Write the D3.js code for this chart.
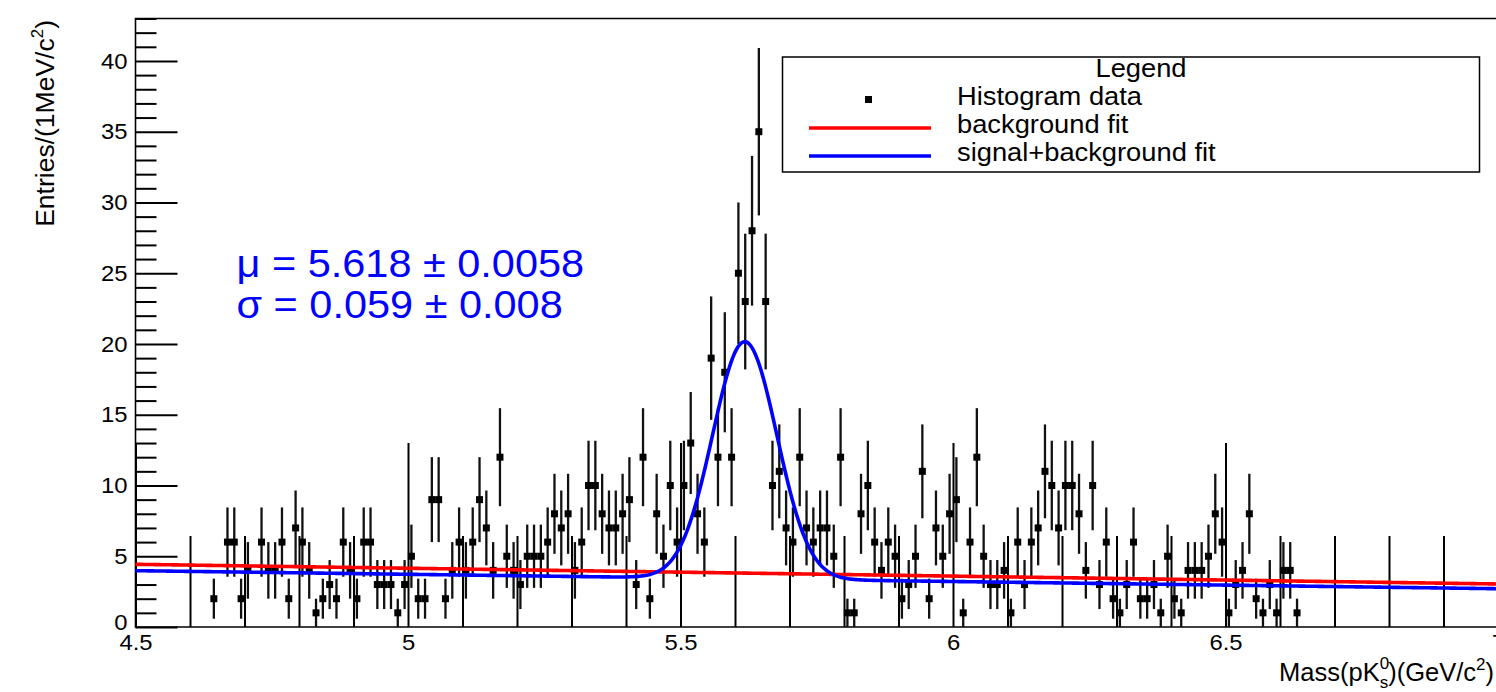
<!DOCTYPE html>
<html><head><meta charset="utf-8">
<script src="https://cdn.jsdelivr.net/npm/d3@7"></script>
<style>html,body{margin:0;padding:0;background:#fff;overflow:hidden}</style>
</head><body><svg id="c" width="1496" height="692"></svg>
<script>
// ---------------- data ----------------
const binLow = 4.5;          // lower edge of first bin (GeV/c^2)
const binWidth = 0.0125;     // bin width (GeV/c^2)
const counts = [
  0,0,0,0,0,0,0,0,0,0,
  0,2,0,6,6,2,4,0,6,4,
  4,6,2,7,6,4,1,2,3,2,
  6,4,2,6,6,3,3,3,1,3,
  5,2,2,9,9,2,4,6,4,6,
  9,7,4,12,5,4,3,5,5,5,
  6,8,7,8,4,6,10,10,8,7,
  7,8,9,3,12,2,8,5,10,6,
  10,13,8,6,19,12,18,12,25,23,
  28,35,23,10,11,7,6,12,7,6,
  7,7,5,12,1,1,8,10,6,4,
  6,5,2,3,5,11,2,7,5,8,
  9,1,6,12,5,3,3,4,1,6,
  3,6,7,11,10,7,10,10,8,4,
  10,3,6,2,1,3,6,2,2,3,
  1,5,2,1,4,4,4,5,8,6,
  1,3,4,8,2,1,3,1,4,4,
  1,0,0,0,0,0,0,0,0,0,
  0,0,0,0,0,0,0,0,0,0,
  0,0,0,0,0,0,0,0,0,0
];
const xMajorTicks = [4.5, 5, 5.5, 6, 6.5, 7];
const xMajorLabels = ["4.5", "5", "5.5", "6", "6.5", "7"];
const yMajorTicks = [0, 5, 10, 15, 20, 25, 30, 35, 40];
const yMajorLabels = ["0", "5", "10", "15", "20", "25", "30", "35", "40"];

// fit results
const fitMu = 5.618, fitSigma = 0.059, fitAmp = 16.75;
const bgOnly = [4.43, -0.556];   // background fit: p0 + p1*(m-4.5)
const bgInSB = [3.98, -0.51];    // background part of signal+background fit
const fitTexts = ["\u03bc = 5.618 \u00b1 0.0058", "\u03c3 = 0.059 \u00b1 0.008"];
const legendLabels = ["Histogram data", "background fit", "signal+background fit"];

// ---------------- drawing ----------------
const FONT = "'Liberation Sans', Arial, Helvetica, sans-serif";
const SX = 1.06;
const svg = d3.select("#c");
const x = d3.scaleLinear().domain([4.5, 7.0]).range([135.5, 1498]);
const y = d3.scaleLinear().domain([0, 43]).range([627, 18.5]);

function stretch(sel, f) {
  sel.each(function () {
    const L = this.getComputedTextLength();
    d3.select(this).attr("textLength", L * f).attr("lengthAdjust", "spacingAndGlyphs");
  });
}

// axes
const xMinor = x.ticks(25).filter(v => Math.abs(v * 2 - Math.round(v * 2)) > 1e-6);
const gxm = svg.append("g").attr("transform", `translate(0,${y(0)})`)
  .call(d3.axisBottom(x).tickValues(xMinor).tickSize(-91).tickFormat(""));
const gx = svg.append("g").attr("transform", `translate(0,${y(0)})`)
  .call(d3.axisBottom(x).tickValues(xMajorTicks).tickSize(-184).tickPadding(7)
    .tickFormat((d, i) => xMajorLabels[i]));
const yMinor = d3.range(0, 44).filter(v => v % 5 !== 0);
const gym = svg.append("g").attr("transform", `translate(${x(4.5)},0)`)
  .call(d3.axisLeft(y).tickValues(yMinor).tickSize(-21).tickFormat(""));
const gy = svg.append("g").attr("transform", `translate(${x(4.5)},0)`)
  .call(d3.axisLeft(y).tickValues(yMajorTicks).tickSize(-42).tickPadding(8)
    .tickFormat((d, i) => yMajorLabels[i]));
[gxm, gx, gym, gy].forEach(g => {
  g.select(".domain").remove();
  g.selectAll(".tick line").attr("stroke", "#000").attr("stroke-width", 2);
  g.selectAll(".tick text").attr("font-family", FONT).attr("font-size", 22.5).attr("fill", "#000");
});
// the "0" label sits a little higher in the reference, just above "4.5"
gy.selectAll(".tick").filter(d => d === 0).select("text").attr("dy", "0.1em");
stretch(gx.selectAll(".tick text"), SX);
stretch(gy.selectAll(".tick text"), SX);

// frame
svg.append("path")
  .attr("d", `M${x(7)},${y(43)}H${x(4.5)}V${y(0)}H${x(7)}`)
  .attr("fill", "none").attr("stroke", "#000").attr("stroke-width", 1.6);

// histogram points with Poisson errors
const pts = counts.map((c, i) => ({ m: binLow + (i + 0.5) * binWidth, c })).filter(d => d.c > 0);
const gd = svg.append("g");
gd.selectAll("line.err").data(pts).enter().append("line")
  .attr("x1", d => x(d.m)).attr("x2", d => x(d.m))
  .attr("y1", d => y(Math.max(0, d.c - Math.sqrt(d.c))))
  .attr("y2", d => y(d.c + Math.sqrt(d.c)))
  .attr("stroke", "#111").attr("stroke-width", 2.3);
gd.selectAll("rect.pt").data(pts).enter().append("rect")
  .attr("x", d => x(d.m) - 3.5).attr("y", d => y(d.c) - 3.5)
  .attr("width", 7).attr("height", 7).attr("fill", "#000");

// fit curves
const mGrid = d3.range(4.5, 7.0001, 0.0025);
const bgF = m => bgOnly[0] + bgOnly[1] * (m - 4.5);
const sbF = m => bgInSB[0] + bgInSB[1] * (m - 4.5) +
  fitAmp * Math.exp(-0.5 * Math.pow((m - fitMu) / fitSigma, 2));
const line = f => d3.line().x(m => x(m)).y(m => y(f(m)))(mGrid);
svg.append("path").attr("d", line(bgF)).attr("fill", "none").attr("stroke", "#ff0000").attr("stroke-width", 3.6);
svg.append("path").attr("d", line(sbF)).attr("fill", "none").attr("stroke", "#0000ff").attr("stroke-width", 3.6);

// fit result text
const ft = svg.append("g").attr("font-family", FONT).attr("font-size", 39.5).attr("fill", "#0000ff");
fitTexts.forEach((t, i) => {
  ft.append("text").attr("x", 236.5).attr("y", 276.7 + i * 41).text(t);
});
stretch(ft.selectAll("text"), 1.05);

// legend
const lg = svg.append("g");
lg.append("rect").attr("x", 782.5).attr("y", 57).attr("width", 697).attr("height", 115)
  .attr("fill", "#fff").attr("stroke", "#000").attr("stroke-width", 1.5);
const lgt = lg.append("g").attr("font-family", FONT).attr("font-size", 25.5).attr("fill", "#000");
lgt.append("text").attr("x", 1141).attr("y", 77).attr("text-anchor", "middle").text("Legend");
legendLabels.forEach((t, i) => {
  lgt.append("text").attr("x", 957).attr("y", 105 + i * 28).text(t);
});
stretch(lgt.selectAll("text"), 1.07);
lg.append("rect").attr("x", 865).attr("y", 96).attr("width", 7).attr("height", 7).attr("fill", "#000");
lg.append("line").attr("x1", 809).attr("x2", 931).attr("y1", 128).attr("y2", 128)
  .attr("stroke", "#ff0000").attr("stroke-width", 3.6);
lg.append("line").attr("x1", 809).attr("x2", 931).attr("y1", 156).attr("y2", 156)
  .attr("stroke", "#0000ff").attr("stroke-width", 3.6);

// axis titles
const xt = svg.append("text").attr("font-family", FONT).attr("font-size", 25.5)
  .attr("text-anchor", "end").attr("x", 1494).attr("y", 681);
xt.append("tspan").text("Mass(pK");
xt.append("tspan").attr("font-size", 17).attr("dy", -12).text("0");
xt.append("tspan").attr("font-size", 17).attr("dx", -9.5).attr("dy", 19).text("s");
xt.append("tspan").attr("dy", -7).text(")(GeV/c");
xt.append("tspan").attr("font-size", 17).attr("dy", -11).text("2");
xt.append("tspan").attr("dy", 11).text(")");

const yt = svg.append("text").attr("font-family", FONT).attr("font-size", 26.5)
  .attr("text-anchor", "end").attr("transform", "translate(54,20) rotate(-90)");
yt.append("tspan").text("Entries/(1MeV/c");
yt.append("tspan").attr("font-size", 17).attr("dy", -11).text("2");
yt.append("tspan").attr("dy", 11).text(")");
</script></body></html>
